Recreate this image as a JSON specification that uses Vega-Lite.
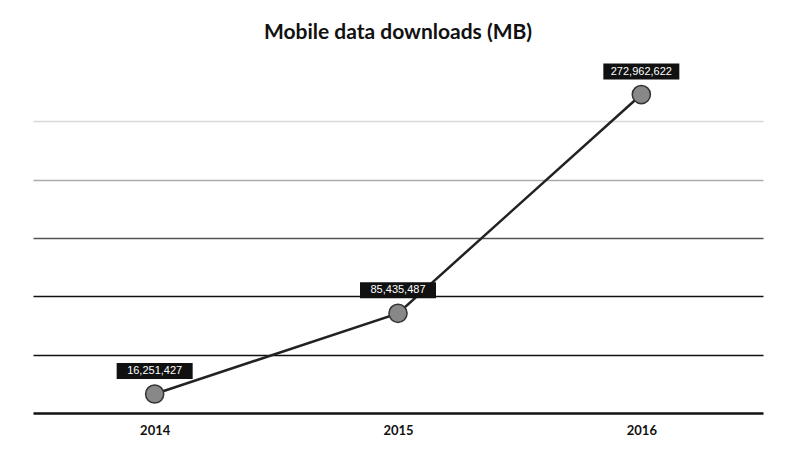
{
  "$schema": "https://vega.github.io/schema/vega-lite/v6.json",
  "autosize": {"type": "none"},
  "width": 730,
  "height": 350,
  "padding": {"left": 33, "top": 63, "right": 31, "bottom": 36},
  "background": "white",
  "title": {
    "text": "Mobile data downloads (MB)",
    "font": "Lato",
    "fontSize": 21,
    "fontWeight": "bold",
    "color": "#111",
    "anchor": "middle",
    "offset": 20
  },
  "config": {"view": {"stroke": null}},
  "data": {
    "values": [
      {"year": "2014", "mb": 16251427},
      {"year": "2015", "mb": 85435487},
      {"year": "2016", "mb": 272962622}
    ]
  },
  "encoding": {
    "x": {
      "field": "year",
      "type": "ordinal",
      "scale": {"type": "point", "padding": 0.5},
      "axis": {
        "title": null,
        "labelAngle": 0,
        "labelFont": "Lato",
        "labelFontSize": 13,
        "labelFontWeight": "bold",
        "labelColor": "#111",
        "labelPadding": 11,
        "ticks": false,
        "domain": true,
        "domainColor": "#111",
        "domainWidth": 2.5
      }
    },
    "y": {
      "field": "mb",
      "type": "quantitative",
      "scale": {"domain": [0, 300000000], "nice": false},
      "axis": {
        "title": null,
        "labels": false,
        "ticks": false,
        "domain": false,
        "values": [50000000, 100000000, 150000000, 200000000, 250000000],
        "grid": true,
        "gridColor": {
          "condition": [
            {"test": "datum.value <= 100000000", "value": "#111"},
            {"test": "datum.value <= 150000000", "value": "#555"},
            {"test": "datum.value <= 200000000", "value": "#aaa"}
          ],
          "value": "#d8d8d8"
        },
        "gridWidth": 1.5
      }
    }
  },
  "layer": [
    {
      "mark": {"type": "line", "color": "#222", "strokeWidth": 2.5}
    },
    {
      "mark": {"type": "point", "shape": "circle", "filled": true, "size": 330, "fill": "#888", "stroke": "#333", "strokeWidth": 1.5, "opacity": 1}
    },
    {
      "mark": {
        "type": "point",
        "shape": "M-1,-0.21 L1,-0.21 L1,0.21 L-1,0.21 Z",
        "size": 5776,
        "filled": true,
        "fill": "#111",
        "opacity": 1,
        "strokeWidth": 0,
        "yOffset": -23
      }
    },
    {
      "mark": {
        "type": "text",
        "color": "white",
        "font": "Liberation Sans",
        "fontSize": 11,
        "baseline": "middle",
        "align": "center",
        "yOffset": -23
      },
      "encoding": {
        "text": {"field": "mb", "type": "quantitative", "format": ",d"}
      }
    }
  ]
}
